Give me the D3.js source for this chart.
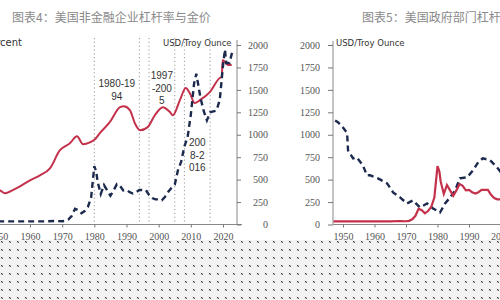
<!DOCTYPE html>
<html>
<head>
<meta charset="utf-8">
<script src="https://cdn.jsdelivr.net/npm/d3@7/dist/d3.min.js"></script>
<style>
  body { margin: 0; background: #fff; }
  svg { display: block; }
  .tick text { font-family: "Liberation Serif", "DejaVu Serif", serif; font-size: 10px; fill: #555; }
  .tick line { stroke: #777; }
  .title { font-family: "Noto Sans CJK SC", sans-serif; font-size: 12px; fill: #8a8a8a; }
  .unit { font-family: "DejaVu Sans", sans-serif; font-size: 8.5px; fill: #333; }
  .note { font-family: "Liberation Sans", sans-serif; font-size: 10px; fill: #333; }
</style>
</head>
<body>
<div id="chart"></div>
<script>
// gold price, USD / troy ounce (both panels)
const goldYears = [1947, 1950, 1955, 1960, 1965, 1968, 1970, 1971, 1972, 1973, 1974, 1975, 1976, 1977, 1978, 1979,
  1980, 1980.6, 1981, 1982, 1983, 1984, 1985, 1986, 1987, 1988, 1989, 1990, 1991, 1992, 1993, 1994, 1995, 1996,
  1997, 1998, 1999, 2000, 2001, 2002, 2003, 2004, 2005, 2006, 2007, 2008, 2009, 2010, 2011, 2011.7, 2012, 2013,
  2014, 2015, 2016, 2017, 2018, 2019, 2020, 2020.6, 2021, 2022, 2023];
const goldPrice = [35, 35, 35, 35, 35, 39, 36, 41, 58, 97, 175, 160, 125, 150, 195, 300,
  650, 590, 480, 340, 440, 380, 320, 380, 450, 430, 380, 385, 360, 345, 360, 385, 385, 385,
  330, 295, 280, 280, 270, 310, 365, 410, 445, 605, 700, 870, 975, 1225, 1570, 1680, 1620, 1410,
  1265, 1160, 1250, 1260, 1270, 1390, 1770, 1950, 1800, 1800, 1940];

// non-financial corporate leverage, % (left panel, left axis cut off)
const corpYears = [1950, 1950.7, 1952.2, 1953.8, 1956.9, 1960, 1963.1, 1966.2, 1969.3, 1972.4, 1974.6, 1976.5,
  1978.6, 1980.2, 1981.7, 1984.8, 1988, 1989.2, 1991.1, 1992.6, 1994.2, 1996.6, 1998.8, 2001.3, 2003.5, 2004.4,
  2006.6, 2008.4, 2009.7, 2011.2, 2012.8, 2015.9, 2019, 2019.6, 2019.9, 2021.5, 2022.7];
const corpLeverage = [25.5, 25.2, 23.9, 24.7, 27.0, 29.7, 31.9, 35.0, 43.1, 46.2, 49.3, 45.8,
  46.6, 48.0, 50.7, 55.6, 62.3, 62.7, 60.9, 55.1, 52.0, 53.4, 58.7, 62.3, 60.1, 58.7,
  65.4, 70.8, 68.5, 64.1, 65.4, 69.0, 75.3, 75.7, 83.3, 81.1, 81.1];

// government sector leverage, % (right panel, right axis cut off)
const govYears = [1947.5, 1948.4, 1950, 1951.3, 1951.6, 1953.2, 1954.4, 1956.3, 1957.6, 1958.6, 1961.1, 1964,
  1965.9, 1968.1, 1970.3, 1972.2, 1974.4, 1976.7, 1978.6, 1980.8, 1982.4, 1984, 1985.6, 1987.1, 1989.4, 1991.3,
  1992.9, 1994.4, 1996.7, 1998.9, 2001, 2003];
const govLeverage = [88, 87, 84, 81, 71.3, 66.8, 67.4, 63.0, 57.4, 57.4, 55.7, 52.9,
  47.9, 45.1, 41.7, 43.4, 39.5, 41.7, 38.9, 36.7, 41.7, 45.1, 49.0, 55.7, 56.3, 60.2,
  64.6, 66.9, 65.8, 61.8, 57, 58];

const priceTicks = [0, 250, 500, 750, 1000, 1250, 1500, 1750, 2000];
const leftYearTicks = [1950, 1960, 1970, 1980, 1990, 2000, 2010, 2020];
const rightYearTicks = [1950, 1960, 1970, 1980, 1990, 2000];
const eventYears = [1980, 1994, 1997, 2005, 2008, 2016];
const periods = [[1980, 1994], [1997, 2005], [2008, 2016]];
const periodLabels = [["1980-19", "94"], ["1997", "-200", "5"], ["200", "8-2", "016"]];

const width = 500, height = 300;
const navy = "#1c2a4d", red = "#c4314b";

const svg = d3.select("#chart").append("svg")
  .attr("width", width)
  .attr("height", height);

const yPrice = d3.scaleLinear().domain([0, 2000]).range([224.5, 45]);

drawLeftPanel();
drawRightPanel();
drawScreen();

function styleAxis(a) {
  a.attr("font-family", "Liberation Serif").attr("font-size", 10);
}

function drawLeftPanel() {
  const x = d3.scaleLinear().domain([1960, 2020]).range([30, 223]);
  const yPct = d3.scaleLinear().domain([10, 90]).range([224.5, 45]);
  const axisX = 237;

  svg.append("text").attr("class", "title").attr("x", 12).attr("y", 22)
    .text("图表4：美国非金融企业杠杆率与金价");

  const g = svg.append("g");

  // period markers
  g.selectAll(".event")
    .data(eventYears)
    .enter()
    .append("line")
    .attr("x1", (d) => x(d)).attr("x2", (d) => x(d))
    .attr("y1", 38).attr("y2", 224.5)
    .attr("stroke", "#999")
    .attr("stroke-width", 1)
    .attr("stroke-dasharray", "1.2,2.6");

  const labelTops = [87, 79, 146];
  periods.forEach((p, i) => {
    const t = g.append("text").attr("class", "note")
      .attr("x", x((p[0] + p[1]) / 2))
      .attr("y", labelTops[i])
      .style("text-anchor", "middle");
    periodLabels[i].forEach((s, j) => {
      t.append("tspan").attr("x", x((p[0] + p[1]) / 2)).attr("dy", j === 0 ? 0 : 12.5).text(s);
    });
  });

  // x axis
  g.append("line").attr("x1", 0).attr("x2", 242).attr("y1", 224.5).attr("y2", 224.5)
    .attr("stroke", "#888");
  g.append("g")
    .attr("transform", "translate(0,224.5)")
    .call(d3.axisBottom(x).tickValues(leftYearTicks).tickFormat(d3.format("d")).tickSize(3).tickPadding(5))
    .call(styleAxis)
    .call((a) => a.select(".domain").remove());

  // right price axis
  const ra = g.append("g")
    .attr("transform", `translate(${axisX},0)`)
    .call(d3.axisRight(yPrice).tickValues(priceTicks).tickFormat(d3.format("d")).tickSize(4).tickSizeOuter(0))
    .call(styleAxis)
    .call((a) => a.select(".domain").attr("stroke", "#888").attr("d", "M0,40V224.5"));
  ra.selectAll(".tick text").attr("x", 31).style("text-anchor", "end");

  g.append("text").attr("class", "unit").attr("x", 22).attr("y", 46)
    .style("font-size", "10px")
    .style("text-anchor", "end").text("Percent");
  g.append("text").attr("class", "unit").attr("x", 163).attr("y", 46).text("USD/Troy Ounce");

  const corpLine = d3.line()
    .x((d, i) => x(corpYears[i]))
    .y((d) => yPct(d))
    .curve(d3.curveMonotoneX);
  g.append("path")
    .datum(corpLeverage)
    .attr("d", corpLine)
    .attr("fill", "none")
    .attr("stroke", red)
    .attr("stroke-width", 2);

  const goldLine = d3.line()
    .x((d, i) => x(goldYears[i]))
    .y((d) => yPrice(d));
  g.append("path")
    .datum(goldPrice)
    .attr("d", goldLine)
    .attr("fill", "none")
    .attr("stroke", navy)
    .attr("stroke-width", 2.4)
    .attr("stroke-dasharray", "6,4");
}

function drawRightPanel() {
  const x = d3.scaleLinear().domain([1950, 2000]).range([343, 500.5]);
  const yPct = d3.scaleLinear().domain([30, 130]).range([224.5, 45]);
  const axisX = 333;

  svg.append("text").attr("class", "title").attr("x", 362).attr("y", 22)
    .text("图表5：美国政府部门杠杆率与金价");

  svg.append("defs").append("clipPath").attr("id", "clipRight")
    .append("rect").attr("x", axisX).attr("y", 30).attr("width", 200).attr("height", 200);

  const g = svg.append("g");

  g.append("line").attr("x1", axisX).attr("x2", 500).attr("y1", 224.5).attr("y2", 224.5)
    .attr("stroke", "#888");
  g.append("g")
    .attr("transform", "translate(0,224.5)")
    .call(d3.axisBottom(x).tickValues(rightYearTicks).tickFormat(d3.format("d")).tickSize(3).tickPadding(5))
    .call(styleAxis)
    .call((a) => a.select(".domain").remove());

  g.append("g")
    .attr("transform", `translate(${axisX},0)`)
    .call(d3.axisLeft(yPrice).tickValues(priceTicks).tickFormat(d3.format("d")).tickSize(5).tickPadding(8).tickSizeOuter(0))
    .call(styleAxis)
    .call((a) => a.select(".domain").attr("stroke", "#888").attr("d", "M0,41V224.5"));

  g.append("text").attr("class", "unit").attr("x", 336).attr("y", 46).text("USD/Troy Ounce");

  const plot = g.append("g").attr("clip-path", "url(#clipRight)");

  const govLine = d3.line()
    .x((d, i) => x(govYears[i]))
    .y((d) => yPct(d));
  plot.append("path")
    .datum(govLeverage)
    .attr("d", govLine)
    .attr("fill", "none")
    .attr("stroke", navy)
    .attr("stroke-width", 2.4)
    .attr("stroke-dasharray", "6,4");

  const goldLine = d3.line()
    .x((d, i) => x(goldYears[i]))
    .y((d) => yPrice(d));
  plot.append("path")
    .datum(goldPrice)
    .attr("d", goldLine)
    .attr("fill", "none")
    .attr("stroke", red)
    .attr("stroke-width", 2.2);
}

// dotted screen over the bottom strip
function drawScreen() {
  const pat = svg.select("defs").append("pattern")
    .attr("id", "dots")
    .attr("patternUnits", "userSpaceOnUse")
    .attr("x", 1).attr("y", 241)
    .attr("width", 8).attr("height", 8);
  pat.append("rect").attr("width", 8).attr("height", 8).attr("fill", "#f3f3f3");
  pat.append("rect").attr("x", 0).attr("y", 0).attr("width", 1).attr("height", 1).attr("fill", "#444");
  pat.append("rect").attr("x", 1).attr("y", 1).attr("width", 1).attr("height", 1).attr("fill", "#666");
  pat.append("rect").attr("x", 1).attr("y", 0).attr("width", 1).attr("height", 1).attr("fill", "#bbb");
  pat.append("rect").attr("x", 0).attr("y", 1).attr("width", 1).attr("height", 1).attr("fill", "#bbb");

  svg.append("rect")
    .attr("x", 0).attr("y", 240)
    .attr("width", width).attr("height", height - 240)
    .attr("fill", "url(#dots)");
}
</script>
</body>
</html>
